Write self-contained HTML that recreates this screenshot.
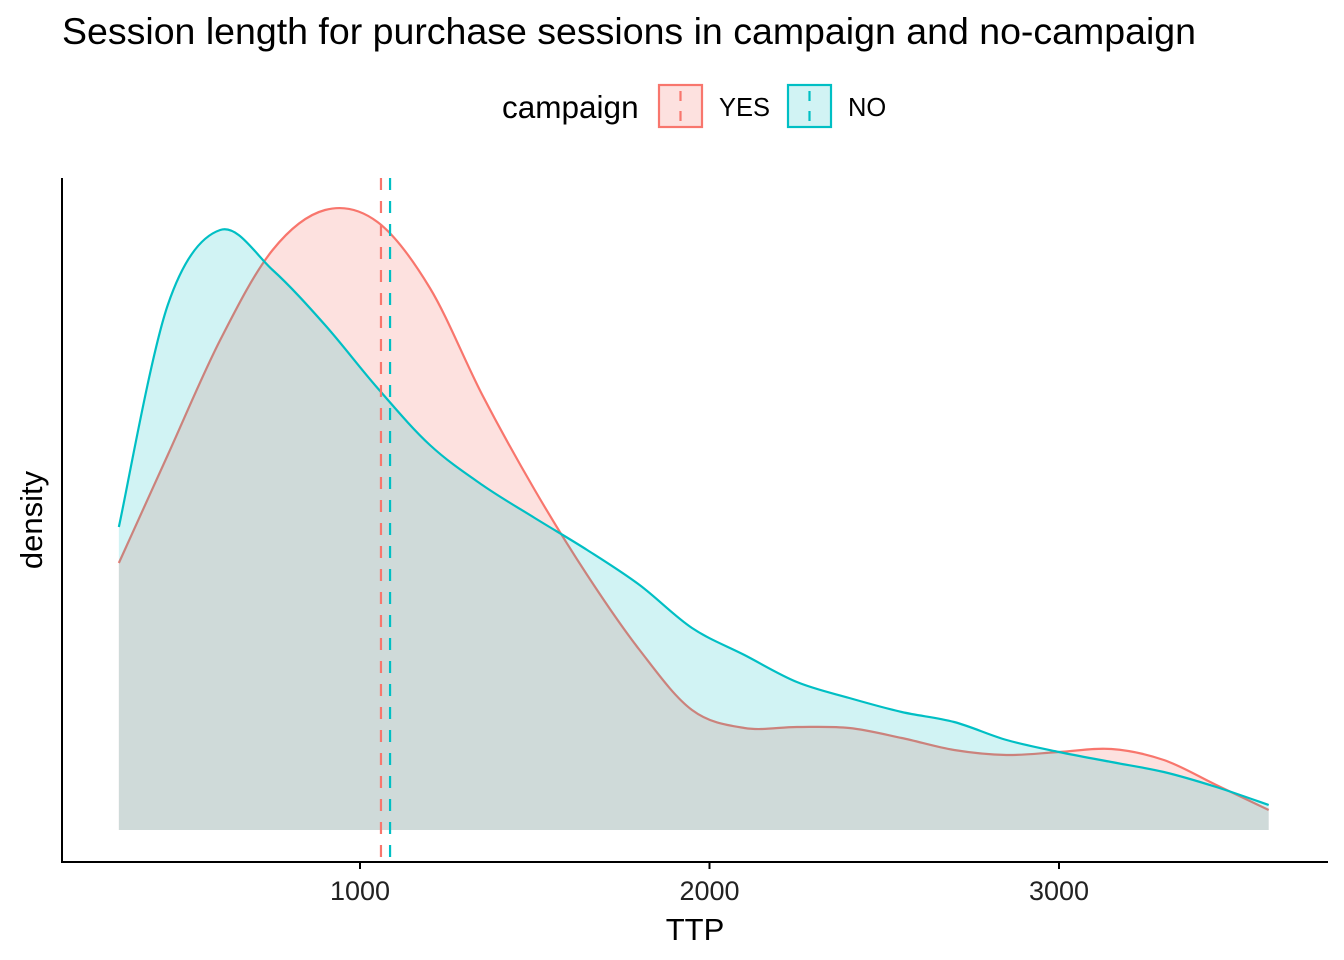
<!DOCTYPE html>
<html><head><meta charset="utf-8"><style>
body{margin:0;background:#fff}
svg{display:block;font-family:"Liberation Sans",Arial,sans-serif}
</style></head><body>
<svg width="1344" height="960" viewBox="0 0 1344 960">
<text x="62" y="44" font-size="37.5" fill="#000">Session length for purchase sessions in campaign and no-campaign</text>
<g>
<text x="502" y="118" font-size="31.5">campaign</text>
<g>
<rect x="659" y="85" width="43" height="42" fill="rgba(248,118,109,0.22)" stroke="#F8766D" stroke-width="2.2"/>
<line x1="680.5" y1="85" x2="680.5" y2="127" stroke="#F8766D" stroke-width="2.2" stroke-dasharray="10,10" stroke-dashoffset="-6"/>
<text x="719" y="116" font-size="25.5">YES</text></g>
<g>
<rect x="788" y="85" width="43" height="42" fill="rgba(0,191,196,0.18)" stroke="#00BFC4" stroke-width="2.2"/>
<line x1="809.5" y1="85" x2="809.5" y2="127" stroke="#00BFC4" stroke-width="2.2" stroke-dasharray="10,10" stroke-dashoffset="-6"/>
<text x="848" y="116" font-size="25.5">NO</text></g>
</g>
<g id="plot"></g>
<line x1="62" y1="178" x2="62" y2="863" stroke="#000" stroke-width="2"/>
<line x1="61" y1="862" x2="1328" y2="862" stroke="#000" stroke-width="2"/>
<g id="ticks"></g>
<text x="695" y="940" font-size="31" text-anchor="middle">TTP</text>
<text transform="translate(42,520) rotate(-90)" font-size="31" text-anchor="middle">density</text>
</svg>
<script>
const xs = [310,450,600,750,900,1050,1200,1350,1500,1650,1800,1950,2100,2250,2400,2550,2700,2850,3000,3150,3300,3450,3600];
const yesVals = [267,375,490,580,620,608,542,435,340,255,180,120,102,103,102,92,80,75,78,81,70,45,20];
const noVals = [303,525,600,560,505,442,385,345,312,280,245,202,175,148,132,118,108,90,78,68,58,43,25];
const means = [1060,1086];
const xTicks = [1000,2000,3000];
const x = v => 10.5 + v*0.3495;
const y = d => 830 - d;
const NS='http://www.w3.org/2000/svg';
const plot=document.getElementById('plot');
function smooth(pts){
  let d='M'+pts[0][0]+','+pts[0][1];
  for(let i=0;i<pts.length-1;i++){
    const p0=pts[Math.max(i-1,0)],p1=pts[i],p2=pts[i+1],p3=pts[Math.min(i+2,pts.length-1)];
    const c1=[p1[0]+(p2[0]-p0[0])/6,p1[1]+(p2[1]-p0[1])/6];
    const c2=[p2[0]-(p3[0]-p1[0])/6,p2[1]-(p3[1]-p1[1])/6];
    d+=`C${c1[0]},${c1[1]} ${c2[0]},${c2[1]} ${p2[0]},${p2[1]}`;
  }
  return d;
}
function series(vals,col,fill,name){
  const pts=xs.map((v,i)=>[x(v),y(vals[i])]);
  const line=smooth(pts);
  const a=document.createElementNS(NS,'path');
  a.setAttribute('d',line+`L${x(xs[xs.length-1])},${y(0)}L${x(xs[0])},${y(0)}Z`);
  a.setAttribute('fill',fill);
  
  
  plot.appendChild(a);
  const l=document.createElementNS(NS,'path');
  l.setAttribute('d',line);l.setAttribute('fill','none');l.setAttribute('stroke',col);l.setAttribute('stroke-width','2.2');
  
  
  plot.appendChild(l);
}
series(yesVals,'#F8766D','rgba(248,118,109,0.22)','yes-density');
series(noVals,'#00BFC4','rgba(0,191,196,0.18)','no-density');
const mc=['#F8766D','#00BFC4'];
means.forEach((m,i)=>{
  const l=document.createElementNS(NS,'line');
  l.setAttribute('x1',x(m));l.setAttribute('x2',x(m));l.setAttribute('y1',178);l.setAttribute('y2',862);
  l.setAttribute('stroke',mc[i]);l.setAttribute('stroke-width','2.2');l.setAttribute('stroke-dasharray','12,11');
  
  
  plot.appendChild(l);
});
const tg=document.getElementById('ticks');
xTicks.forEach(t=>{
  const l=document.createElementNS(NS,'line');
  l.setAttribute('x1',x(t));l.setAttribute('x2',x(t));l.setAttribute('y1',862);l.setAttribute('y2',869);
  l.setAttribute('stroke','#000');l.setAttribute('stroke-width','2');
  
  
  tg.appendChild(l);
  const tx=document.createElementNS(NS,'text');
  tx.setAttribute('x',x(t));tx.setAttribute('y',900);tx.setAttribute('font-size','27');tx.setAttribute('text-anchor','middle');tx.setAttribute('fill','#222');
  tx.textContent=t;
  
  
  tg.appendChild(tx);
});
</script>
</body></html>
